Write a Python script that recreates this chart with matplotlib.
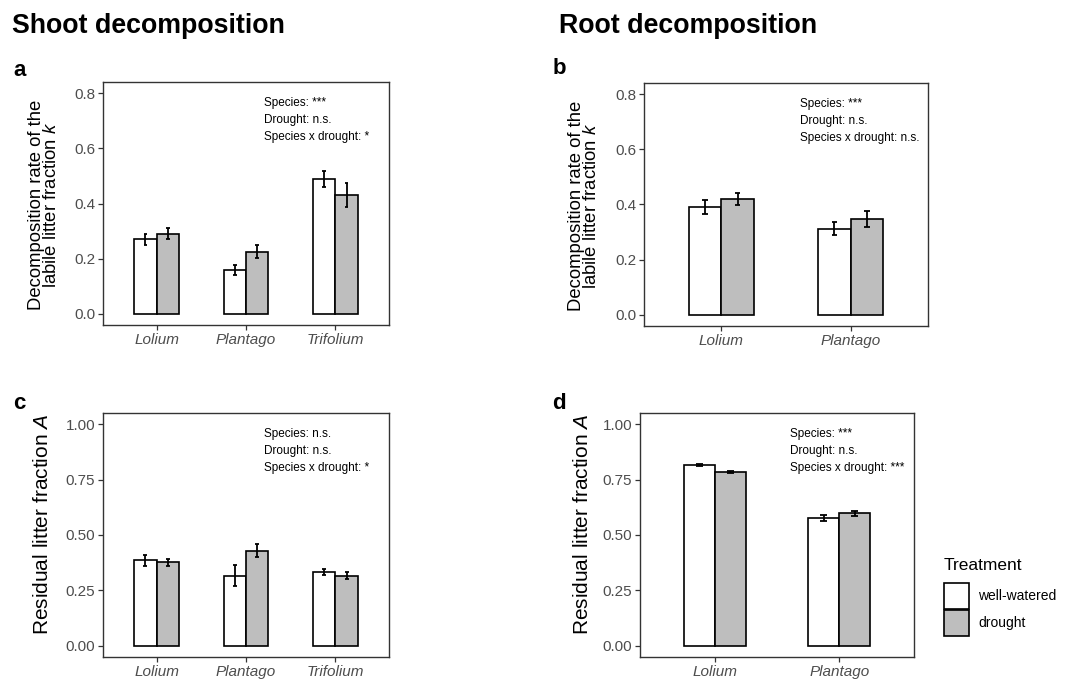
import matplotlib
matplotlib.use('Agg')
import matplotlib.pyplot as plt
import numpy as np
from matplotlib.patches import Rectangle

plt.rcParams['font.family'] = ['Liberation Sans', 'DejaVu Sans']
plt.rcParams['mathtext.fontset'] = 'custom'
plt.rcParams['mathtext.rm'] = 'Liberation Sans'
plt.rcParams['mathtext.it'] = 'Liberation Sans:italic'

# species and treatments
species_shoot = ['Lolium', 'Plantago', 'Trifolium']
species_root = ['Lolium', 'Plantago']
treatments = ['well-watered', 'drought']

# decomposition rate k (mean, se)
shoot_k_ww = [0.27, 0.16, 0.49]
shoot_k_ww_se = [0.020, 0.018, 0.029]
shoot_k_dr = [0.29, 0.226, 0.43]
shoot_k_dr_se = [0.020, 0.025, 0.043]
root_k_ww = [0.39, 0.312]
root_k_ww_se = [0.026, 0.024]
root_k_dr = [0.42, 0.348]
root_k_dr_se = [0.023, 0.028]

# residual litter fraction A (mean, se)
shoot_A_ww = [0.386, 0.317, 0.332]
shoot_A_ww_se = [0.024, 0.049, 0.014]
shoot_A_dr = [0.377, 0.43, 0.317]
shoot_A_dr_se = [0.017, 0.028, 0.015]
root_A_ww = [0.817, 0.576]
root_A_ww_se = [0.004, 0.014]
root_A_dr = [0.785, 0.598]
root_A_dr_se = [0.004, 0.012]

# ANOVA results
stats_a = ['Species: ***', 'Drought: n.s.', 'Species x drought: *']
stats_b = ['Species: ***', 'Drought: n.s.', 'Species x drought: n.s.']
stats_c = ['Species: n.s.', 'Drought: n.s.', 'Species x drought: *']
stats_d = ['Species: ***', 'Drought: n.s.', 'Species x drought: ***']

k_ticks = [0.0, 0.2, 0.4, 0.6, 0.8]
A_ticks = [0.0, 0.25, 0.5, 0.75, 1.0]

W, H = 1083, 681
fig = plt.figure(figsize=(W / 100, H / 100), dpi=100)
fills = ['white', '#bebebe']
spine_col = '#333333'
tick_col = '#4d4d4d'


def px_axes(left, top, right, bottom):
    return fig.add_axes([left / W, (H - bottom) / H, (right - left) / W, (bottom - top) / H])


def panel(ax, species, means, ses, ticks, fmt, stats, stx, cw):
    x = np.arange(1, len(species) + 1)
    bw = 0.25
    for j, (m, s) in enumerate(zip(means, ses)):
        xs = x + (j - 0.5) * bw
        ax.bar(xs, m, width=bw, color=fills[j], edgecolor='black', linewidth=1.2, zorder=2)
        m = np.array(m)
        s = np.array(s)
        ax.vlines(xs, m - s, m + s, color='black', linewidth=1.3, zorder=3)
        ax.hlines(m - s, xs - cw, xs + cw, color='black', linewidth=1.3, zorder=3)
        ax.hlines(m + s, xs - cw, xs + cw, color='black', linewidth=1.3, zorder=3)
    ax.set_xlim(0.4, len(species) + 0.6)
    lo, hi = ticks[0], ticks[-1]
    pad = 0.05 * (hi - lo)
    ax.set_ylim(lo - pad, hi + pad)
    ax.set_yticks(ticks)
    ax.set_yticklabels([fmt.format(t) for t in ticks])
    ax.set_xticks(x)
    ax.set_xticklabels(species, style='italic')
    for sp in ax.spines.values():
        sp.set_color(spine_col)
        sp.set_linewidth(1.0)
    ax.tick_params(colors=spine_col, labelcolor=tick_col, labelsize=11, length=3.5, width=0.9, pad=2)
    for i, s in enumerate(stats):
        ax.text(stx, 0.915 - i * 0.07, s, transform=ax.transAxes, fontsize=8.5, va='center', ha='left')


ax_a = px_axes(103, 82, 389, 325)
panel(ax_a, species_shoot, [shoot_k_ww, shoot_k_dr], [shoot_k_ww_se, shoot_k_dr_se],
      k_ticks, '{:.1f}', stats_a, 0.563, 0.02)
ax_b = px_axes(644, 83, 928, 326)
panel(ax_b, species_root, [root_k_ww, root_k_dr], [root_k_ww_se, root_k_dr_se],
      k_ticks, '{:.1f}', stats_b, 0.549, 0.022)
ax_c = px_axes(103, 413, 389, 657)
panel(ax_c, species_shoot, [shoot_A_ww, shoot_A_dr], [shoot_A_ww_se, shoot_A_dr_se],
      A_ticks, '{:.2f}', stats_c, 0.563, 0.022)
ax_d = px_axes(640, 413, 914, 657)
panel(ax_d, species_root, [root_A_ww, root_A_dr], [root_A_ww_se, root_A_dr_se],
      A_ticks, '{:.2f}', stats_d, 0.547, 0.028)

# y axis titles
klab = 'Decomposition rate of the\nlabile litter fraction $k$'
Alab = 'Residual litter fraction $A$'
fig.text(44 / W, 1 - 205 / H, klab, rotation=90, ha='center', va='center', fontsize=13.3, linespacing=0.92)
fig.text(584 / W, 1 - 206 / H, klab, rotation=90, ha='center', va='center', fontsize=13.3, linespacing=0.92)
fig.text(43 / W, 1 - 524 / H, Alab, rotation=90, ha='center', va='center', fontsize=15)
fig.text(583 / W, 1 - 524 / H, Alab, rotation=90, ha='center', va='center', fontsize=15)

# column headings and panel letters
fig.text(12 / W, 1 - 26 / H, 'Shoot decomposition', fontsize=19.3, fontweight='bold', va='center', ha='left')
fig.text(559 / W, 1 - 26 / H, 'Root decomposition', fontsize=19.3, fontweight='bold', va='center', ha='left')
for lab, xp, yp in [('a', 13, 70), ('b', 553, 69), ('c', 13, 403), ('d', 552, 403)]:
    fig.text(xp / W, 1 - yp / H, lab, fontsize=16, fontweight='bold', va='center', ha='left')

# legend
fig.text(944 / W, 1 - 565 / H, 'Treatment', fontsize=12.5, va='center', ha='left')
for j, (lab, yc) in enumerate(zip(treatments, [596, 623])):
    fig.patches.append(Rectangle((944 / W, 1 - (yc + 13) / H), 25 / W, 26 / H,
                                 transform=fig.transFigure, facecolor=fills[j],
                                 edgecolor='black', linewidth=1.2))
    fig.text(978 / W, 1 - yc / H, lab, fontsize=10, va='center', ha='left')

fig.savefig('out.png', dpi=100)
